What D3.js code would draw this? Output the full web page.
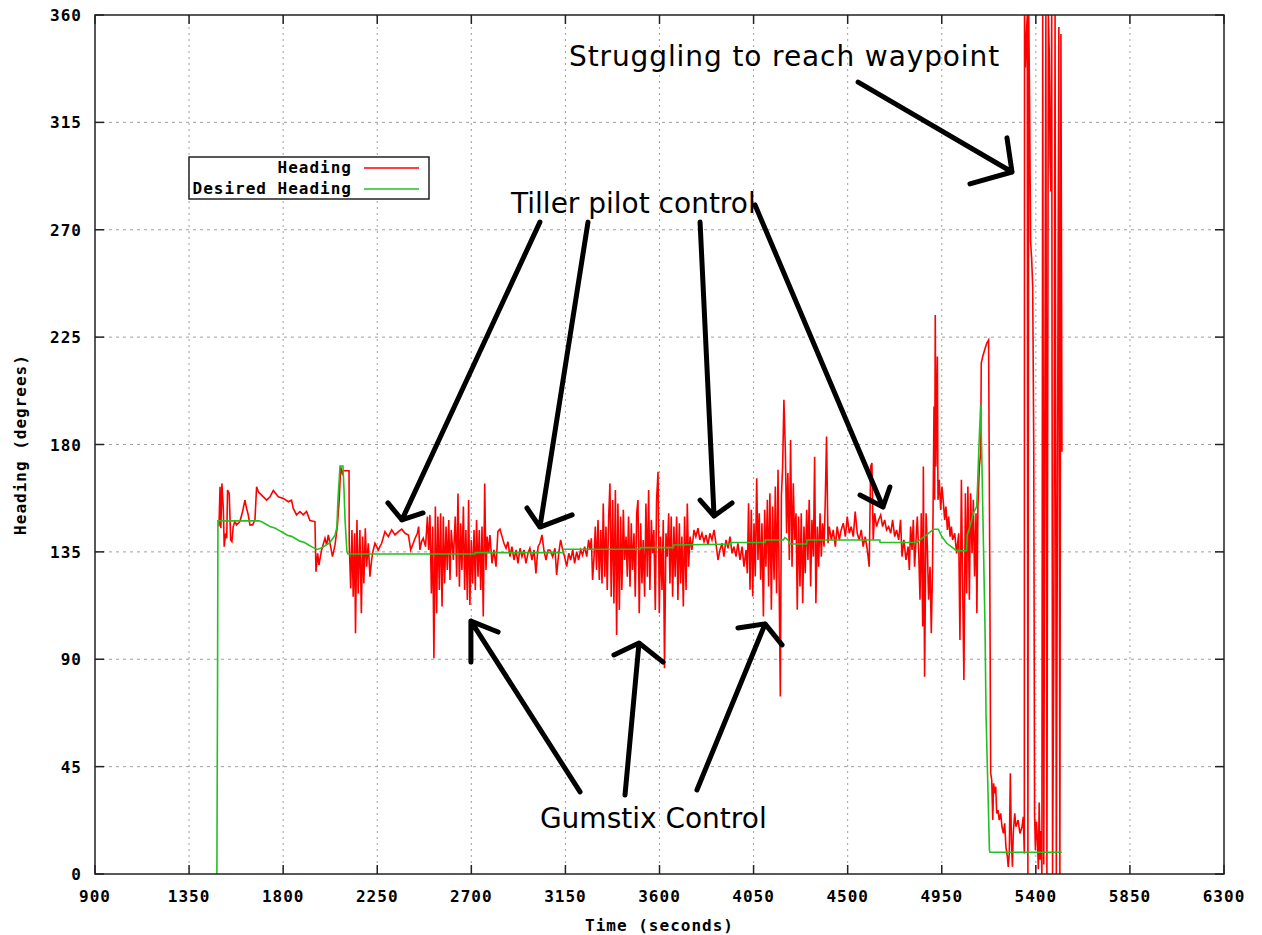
<!DOCTYPE html>
<html>
<head>
<meta charset="utf-8">
<script src="https://cdn.jsdelivr.net/npm/d3@7"></script>
<style>
  body { margin: 0; background: #fff; }
  .tick-label { font-family: "DejaVu Sans Mono", monospace; font-weight: bold; font-size: 16px; letter-spacing: 1px; }
  .note { font-family: "DejaVu Sans", sans-serif; font-size: 28px; }
</style>
</head>
<body>
<svg id="chart"></svg>
<script>
// tick values
const xTicks = [900, 1350, 1800, 2250, 2700, 3150, 3600, 4050, 4500, 4950, 5400, 5850, 6300];
const yTicks = [0, 45, 90, 135, 180, 225, 270, 315, 360];

const seriesNames = ["Heading", "Desired Heading"];
const seriesColors = ["#ff0000", "#22c022"];

// Heading [time, degrees]
const headingData = [
  [1493,145.6],[1498,162.3],[1502,144.9],[1507,163.7],[1514,152.6],[1518,137.2],[1525,142.8],[1530,140.7],
  [1534,160.9],[1542,159.5],[1549,140],[1555,139.3],[1561,145.6],[1569,147.7],[1577,146.3],[1593,147.7],
  [1606,151.9],[1617,156.7],[1625,153.3],[1633,150.5],[1641,146.3],[1654,146.3],[1665,148.4],[1673,162.3],
  [1681,160.2],[1697,158.8],[1721,156.7],[1737,158.1],[1753,160.7],[1777,158.1],[1801,157.4],[1825,156],
  [1840,156.7],[1848,153.3],[1864,150.5],[1880,151.9],[1896,150.5],[1912,151.9],[1928,148.1],[1952,147.7],
  [1957,126.7],[1965,134.4],[1971,129.5],[1984,135.8],[2000,140.7],[2008,137.9],[2016,142.1],[2027,137.2],
  [2036,133],[2048,137.9],[2059,145.6],[2068,156.7],[2075,170.7],[2084,167.2],[2087,169],[2115,169],
  [2116,138.6],[2123,119.7],[2129,144.2],[2135,116.2],[2142,142.8],[2146,100.9],[2153,148.4],[2159,117.6],
  [2167,144.2],[2174,109.3],[2180,141.4],[2186,121.8],[2193,144.9],[2199,128.8],[2207,138.6],[2215,124.6],
  [2223,131.6],[2231,135.8],[2239,138.6],[2255,135.8],[2271,138.6],[2287,143.5],[2303,141.4],[2319,144.2],
  [2335,142.1],[2351,143.5],[2367,144.5],[2383,142.8],[2399,142.1],[2410,135.8],[2419,137.9],[2431,140.7],
  [2442,142.8],[2448,145.6],[2454,135.8],[2462,139.3],[2470,140.7],[2481,137.2],[2490,149.8],[2496,135.8],
  [2502,150.5],[2509,117.6],[2515,145.6],[2521,90.4],[2528,154],[2534,109.3],[2540,149.8],[2547,119],
  [2553,151.2],[2560,112.1],[2566,149.8],[2572,121.8],[2579,145.6],[2585,127.4],[2592,148.4],[2598,123.2],
  [2604,144.2],[2614,131.6],[2623,149.8],[2630,124.6],[2636,159.5],[2643,120.4],[2649,147],[2655,127.4],
  [2662,154],[2668,119],[2674,144.2],[2681,114.8],[2687,156.7],[2693,112.7],[2700,140],[2706,121.8],
  [2713,144.2],[2719,119],[2725,148.4],[2732,124.6],[2738,144.2],[2745,119],[2751,145.6],[2757,107.9],
  [2764,163.7],[2770,127.4],[2776,141.4],[2783,134.4],[2789,142.1],[2799,130.2],[2808,135.8],[2818,128.8],
  [2827,143.5],[2837,144.5],[2847,141.4],[2856,138.6],[2866,136.5],[2875,139.3],[2885,133],[2894,137.2],
  [2904,131.6],[2914,135.8],[2923,130.2],[2933,136.5],[2942,133],[2952,135.8],[2961,130.2],[2971,134.4],
  [2980,136.5],[2990,131.6],[3000,135.8],[3009,126],[3019,137.2],[3028,138.6],[3038,142.1],[3047,135.8],
  [3057,131.6],[3067,135.8],[3076,135.8],[3089,133],[3100,136.5],[3108,125.3],[3118,134.4],[3127,140],
  [3137,135.8],[3146,133],[3156,128.8],[3166,134.4],[3175,131.6],[3185,135.8],[3194,130.2],[3204,135.1],
  [3213,131.6],[3223,135.8],[3232,133.7],[3242,137.2],[3252,133],[3261,140],[3268,135.8],[3274,140.7],
  [3280,123.2],[3287,133],[3293,145.6],[3299,127.4],[3306,148.4],[3312,123.2],[3319,144.2],[3325,121.8],
  [3331,155.3],[3338,124.6],[3344,145.6],[3350,119],[3357,149.8],[3363,163.7],[3369,116.2],[3376,156.7],
  [3382,113.4],[3389,160.9],[3395,100.2],[3401,155.3],[3408,110.6],[3414,149.8],[3420,119],[3427,152.6],
  [3433,131.6],[3440,141.4],[3446,124.6],[3452,149.8],[3459,120.4],[3465,147],[3471,127.4],[3478,142.8],
  [3484,116.2],[3491,151.2],[3497,156.7],[3503,109.3],[3510,147],[3516,121.8],[3522,140],[3529,116.2],
  [3535,155.3],[3542,124.6],[3548,160.9],[3554,119],[3561,148.4],[3567,134.4],[3573,144.2],[3580,110.6],
  [3586,156.7],[3593,168.6],[3599,109.3],[3605,141.4],[3612,119],[3618,148.4],[3624,86.2],[3631,142.8],
  [3637,133],[3644,151.2],[3650,121.8],[3656,149.8],[3663,116.2],[3669,145.6],[3675,124.6],[3682,149.8],
  [3688,114.8],[3695,147],[3701,121.8],[3707,141.4],[3714,112.1],[3720,149.8],[3727,119],[3733,155.3],
  [3739,128.8],[3746,141.4],[3755,135.8],[3765,144.2],[3774,141.4],[3784,144.9],[3793,140],[3803,142.8],
  [3813,139.3],[3822,142.1],[3832,137.9],[3841,142.8],[3851,140],[3861,144.2],[3870,138.6],[3880,131.6],
  [3889,135.8],[3899,138.6],[3908,133],[3918,140],[3928,136.5],[3937,141.4],[3947,134.4],[3956,137.2],
  [3966,133],[3975,138.6],[3985,131.6],[3995,137.2],[4004,128.8],[4014,135.8],[4020,126],[4026,155.4],
  [4033,119.1],[4039,152.6],[4046,116.3],[4052,147],[4058,124.7],[4065,165.9],[4071,131.6],[4077,151.2],
  [4084,123.3],[4090,147],[4097,107.9],[4103,152.6],[4109,128.8],[4116,156.8],[4122,120.5],[4128,159.6],
  [4135,110.7],[4141,154],[4148,123.3],[4154,162.4],[4160,117.7],[4167,169.4],[4173,114.9],[4178,74.4],
  [4183,158.2],[4189,170.8],[4195,198.7],[4202,177.7],[4208,142.8],[4214,168],[4221,131.6],[4227,181.9],
  [4234,128.8],[4240,163.8],[4246,140],[4253,151.2],[4259,110.7],[4265,149.8],[4272,120.5],[4278,151.2],
  [4285,113.5],[4291,145.6],[4297,126],[4304,152.6],[4310,131.6],[4316,156.8],[4323,120.5],[4329,148.4],
  [4336,133],[4342,174.9],[4348,113.5],[4355,145.6],[4361,128.8],[4368,151.2],[4374,133],[4380,147],
  [4387,137.2],[4393,156.8],[4399,183.3],[4406,138.6],[4412,145.6],[4422,140],[4431,144.2],[4441,137.2],
  [4450,145.6],[4460,140],[4469,144.2],[4479,147],[4489,141.4],[4498,149.8],[4508,142.8],[4517,145.6],
  [4527,141.4],[4536,151.9],[4546,142.8],[4555,140],[4565,144.2],[4574,137.2],[4584,141.4],[4594,135.8],
  [4603,128.8],[4610,170.8],[4616,172.2],[4622,140],[4629,151.2],[4638,145.6],[4648,148.4],[4658,150.5],
  [4667,145.6],[4677,148.4],[4686,144.2],[4696,145.6],[4706,142.8],[4715,148.4],[4725,141.4],[4734,144.2],
  [4744,140],[4753,148.4],[4760,133],[4769,140],[4779,131.6],[4789,137.2],[4795,127.4],[4801,145.6],
  [4808,135.8],[4814,148.4],[4820,128.8],[4827,140],[4833,149.8],[4840,134.4],[4846,114.9],[4852,151.2],
  [4859,103.7],[4862,170.8],[4868,82.7],[4875,151.2],[4881,137.2],[4887,114.9],[4894,128.8],[4900,100.9],
  [4906,128.8],[4913,195.9],[4916,156.8],[4919,234.3],[4922,170.8],[4929,216.9],[4932,156.8],[4938,165.2],
  [4945,152.6],[4951,162.4],[4958,155.4],[4964,148.4],[4970,154],[4977,144.2],[4983,149.8],[4990,141.4],
  [4996,145.6],[5002,140],[5012,142.8],[5021,134.4],[5031,142.8],[5037,98.1],[5044,165.2],[5050,120.5],
  [5056,81.3],[5063,159.6],[5069,117.7],[5075,162.4],[5082,114.9],[5088,159.6],[5095,134.4],[5101,156.8],
  [5107,124.7],[5114,151.2],[5118,109.3],[5123,154],[5130,170.8],[5136,176.3],[5139,214.1],[5146,216.9],
  [5155,219.6],[5165,222.4],[5174,223.8],[5180,123.3],[5184,42.2],[5189,39.4],[5194,22.6],[5198,38],
  [5203,33.8],[5208,36.6],[5213,25.4],[5219,26.8],[5225,22.6],[5232,25.4],[5238,19.8],[5245,17],
  [5251,21.2],[5257,11.4],[5264,7.2],[5268,3],[5273,8.6],[5278,42.2],[5283,14.2],[5288,3],
  [5292,17],[5299,25.4],[5305,19.8],[5315,22.6],[5324,17],[5334,19.8],[5340,24],[5345,8.6],
  [5346,360],[5350,338],[5355,352],[5359,360],[5362,0],[5366,360],[5370,325],[5375,265],
  [5380,258],[5385,246],[5390,180],[5394,25],[5398,10],[5403,22],[5408,14],[5412,2],
  [5416,30],[5420,6],[5425,18],[5429,0],[5433,360],[5438,4],[5443,192],[5448,360],
  [5453,0],[5460,360],[5464,345],[5468,300],[5472,286],[5476,360],[5480,0],[5486,95],
  [5492,360],[5498,0],[5504,176],[5510,355],[5515,0],[5520,352],[5525,177]
];

// Desired Heading [time, degrees]
const desiredData = [
  [1483,0],[1486,75],[1488,148],[1684,148],[1700,147.5],[1720,146.5],[1740,145.5],[1760,145],
  [1780,144],[1800,143],[1820,142],[1840,141.5],[1860,140.5],[1880,139.5],[1900,139],[1920,138],
  [1940,137],[1962,136],[1980,136.5],[2000,137.5],[2024,139],[2048,142],[2057,145.4],[2062,156.7],
  [2072,171],[2086,171],[2091,161],[2096,148.4],[2105,135],[2110,134.1],[2717,134.1],[2718,134.7],
  [3139,134.7],[3140,136.1],[3507,136.1],[3508,136.8],[3666,136.8],[3667,137.9],[3900,138.2],[3940,138.3],
  [3941,138.9],[4105,138.9],[4106,140],[4192,140],[4200,141],[4215,140],[4224,138.3],[4304,138.3],
  [4305,140],[4654,140],[4655,138.9],[4830,138.9],[4846,140],[4878,142.1],[4910,144.5],[4934,144.5],
  [4950,141.4],[4974,138.6],[5021,135.5],[5069,135.5],[5072,142.1],[5085,145.6],[5101,151.2],[5117,154],
  [5122,164.5],[5127,177],[5136,196.6],[5141,177.7],[5149,140],[5157,102.6],[5162,65.9],[5173,28.2],
  [5178,10],[5181,9.1],[5525,9.1]
];

// hand-drawn notes, in data units: text anchor, then arrows as [tail, tip, arm1, arm2]
const noteTexts = [
  { text: "Struggling to reach waypoint", t: 3167, h: 338.6, spacing: 0.9 },
  { text: "Tiller pilot control", t: 2890, h: 277, spacing: 0 },
  { text: "Gumstix Control", t: 3028, h: 19.3, spacing: 0 }
];
const noteArrows = [
  [[3028,273.2],[2368,148.4],[2301,155.5],[2469,151.3]],
  [[3258,273.2],[3028,145.4],[2966,153.4],[3182,150.5]],
  [[3794,273.2],[3861,150],[3794,156.7],[3947,155.5]],
  [[4057,280.4],[4669,153.8],[4559,158.8],[4702,162.2]],
  [[4550,331.9],[5286,294.2],[5262,308.5],[5085,289.2]],
  [[3220,34.4],[2698,106],[2698,88.8],[2828,101.4]],
  [[3435,33.1],[3502,96.8],[3382,91.8],[3617,88.8]],
  [[3779,35.2],[4105,104.8],[3975,103.1],[4186,96]]
];

const W = 1262, H = 935;
const margin = { top: 15, right: 38, bottom: 61, left: 95 };
const width = W - margin.left - margin.right;
const height = H - margin.top - margin.bottom;

const svg = d3.select("#chart").attr("width", W).attr("height", H);
const chart = svg.append("g").attr("transform", `translate(${margin.left},${margin.top})`);

const x = d3.scaleLinear().domain([900, 6300]).range([0, width]);
const y = d3.scaleLinear().domain([0, 360]).range([height, 0]);

// grid
chart.selectAll(".vgrid")
  .data(xTicks.slice(1, -1))
  .join("line")
    .attr("x1", d => x(d)).attr("x2", d => x(d))
    .attr("y1", 0).attr("y2", height)
    .attr("stroke", "#a0a0a0").attr("stroke-width", 1)
    .attr("stroke-dasharray", "2,4");
chart.selectAll(".hgrid")
  .data(yTicks.slice(1, -1))
  .join("line")
    .attr("x1", 0).attr("x2", width)
    .attr("y1", d => y(d)).attr("y2", d => y(d))
    .attr("stroke", "#a0a0a0").attr("stroke-width", 1)
    .attr("stroke-dasharray", "3,4");

// ticks on all four sides, pointing in
const tl = 9;
xTicks.forEach(d => {
  chart.append("line").attr("x1", x(d)).attr("x2", x(d)).attr("y1", height).attr("y2", height - tl)
    .attr("stroke", "#222").attr("stroke-width", 1.5);
  chart.append("line").attr("x1", x(d)).attr("x2", x(d)).attr("y1", 0).attr("y2", tl)
    .attr("stroke", "#222").attr("stroke-width", 1.5);
});
yTicks.forEach(d => {
  chart.append("line").attr("x1", 0).attr("x2", tl).attr("y1", y(d)).attr("y2", y(d))
    .attr("stroke", "#222").attr("stroke-width", 1.5);
  chart.append("line").attr("x1", width).attr("x2", width - tl).attr("y1", y(d)).attr("y2", y(d))
    .attr("stroke", "#222").attr("stroke-width", 1.5);
});

// tick labels
chart.selectAll(".xlab")
  .data(xTicks)
  .join("text")
    .attr("class", "tick-label")
    .attr("x", d => x(d)).attr("y", height + 28)
    .attr("text-anchor", "middle")
    .text(d => d);
chart.selectAll(".ylab")
  .data(yTicks)
  .join("text")
    .attr("class", "tick-label")
    .attr("x", -13).attr("y", d => y(d) + 6)
    .attr("text-anchor", "end")
    .text(d => d);

// axis titles
svg.append("text")
  .attr("class", "tick-label")
  .attr("x", margin.left + width / 2).attr("y", 931)
  .attr("text-anchor", "middle")
  .text("Time (seconds)");
svg.append("text")
  .attr("class", "tick-label")
  .attr("transform", `translate(26,${margin.top + height / 2}) rotate(-90)`)
  .attr("text-anchor", "middle")
  .text("Heading (degrees)");

// series
const line = d3.line().x(d => x(d[0])).y(d => y(d[1]));
chart.append("path")
  .datum(headingData)
  .attr("fill", "none")
  .attr("stroke", seriesColors[0])
  .attr("stroke-width", 1.6)
  .attr("d", line);
chart.append("path")
  .datum(desiredData)
  .attr("fill", "none")
  .attr("stroke", seriesColors[1])
  .attr("stroke-width", 1.6)
  .attr("d", line);

// border
chart.append("rect")
  .attr("width", width).attr("height", height)
  .attr("fill", "none").attr("stroke", "#222").attr("stroke-width", 1.5);

// legend
const leg = svg.append("g").attr("transform", "translate(189,157)");
leg.append("rect")
  .attr("width", 240).attr("height", 42)
  .attr("fill", "#fff").attr("stroke", "#222").attr("stroke-width", 1.5);
seriesNames.forEach((name, i) => {
  leg.append("text")
    .attr("class", "tick-label")
    .attr("x", 163).attr("y", 16 + i * 21)
    .attr("text-anchor", "end")
    .text(name);
  leg.append("line")
    .attr("x1", 175).attr("x2", 230)
    .attr("y1", 11 + i * 21).attr("y2", 11 + i * 21)
    .attr("stroke", seriesColors[i]).attr("stroke-width", 1.6);
});

// annotations
chart.selectAll(".note")
  .data(noteTexts)
  .join("text")
    .attr("class", "note")
    .attr("x", d => x(d.t)).attr("y", d => y(d.h))
    .style("letter-spacing", d => d.spacing + "px")
    .text(d => d.text);

noteArrows.forEach(a => {
  const [tail, tip, arm1, arm2] = a;
  const path = d3.path();
  path.moveTo(x(tail[0]), y(tail[1]));
  path.lineTo(x(tip[0]), y(tip[1]));
  path.moveTo(x(arm1[0]), y(arm1[1]));
  path.lineTo(x(tip[0]), y(tip[1]));
  path.lineTo(x(arm2[0]), y(arm2[1]));
  chart.append("path")
    .attr("d", path.toString())
    .attr("fill", "none")
    .attr("stroke", "#000")
    .attr("stroke-width", 5)
    .attr("stroke-linecap", "round")
    .attr("stroke-linejoin", "round");
});
</script>
</body>
</html>
